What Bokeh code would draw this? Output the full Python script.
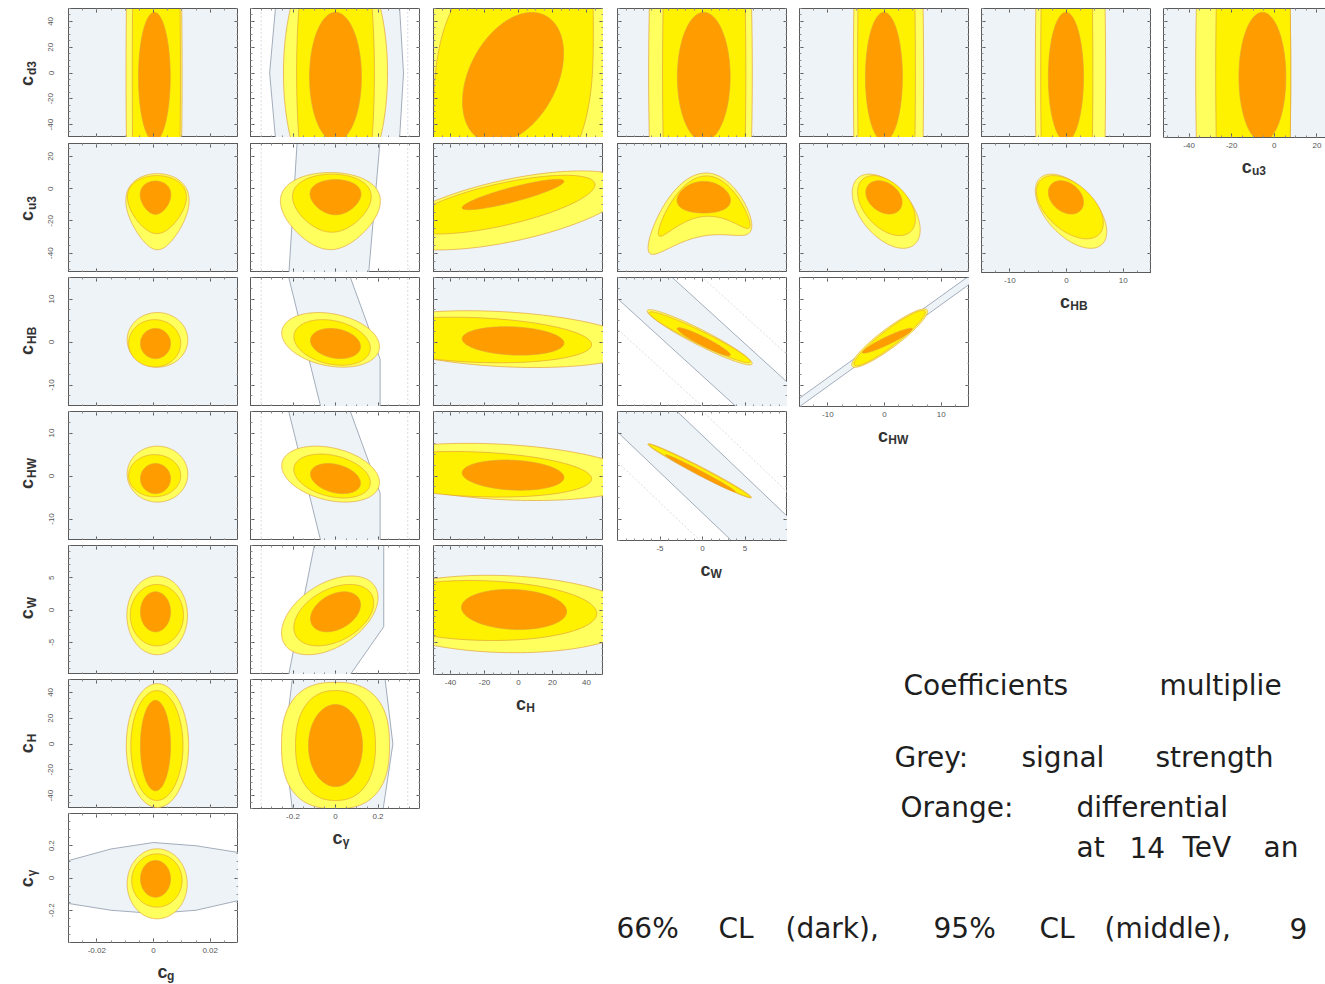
import numpy as np
from bokeh.plotting import figure
from bokeh.layouts import row, column
from bokeh.models import Range1d, FixedTicker, LinearAxis, PrintfTickFormatter
from bokeh.embed import file_html
from bokeh.resources import INLINE
from bokeh.core.properties import value

# ---------------------------------------------------------------- data
col_vars = ["g", "γ", "H", "W", "HW", "HB", "u3"]
row_vars = ["d3", "u3", "HB", "HW", "W", "H", "γ"]

axis_range = {
    "g": (-0.03, 0.03), "γ": (-0.4, 0.4), "H": (-50, 50), "W": (-10, 10),
    "HW": (-15, 15), "HB": (-15, 15), "u3": (-52, 28), "d3": (-50, 50),
}
major_ticks = {
    "g": [-0.02, 0, 0.02], "γ": [-0.2, 0, 0.2], "H": [-40, -20, 0, 20, 40],
    "W": [-5, 0, 5], "HW": [-10, 0, 10], "HB": [-10, 0, 10],
    "u3": [-40, -20, 0, 20], "d3": [-40, -20, 0, 20, 40],
}
minor_step = {"g": 0.005, "γ": 0.05, "H": 5, "W": 1, "HW": 2.5, "HB": 2.5,
              "u3": 5, "d3": 5}


def shape(cx, cy, sx, sy, rho=0.0, egg=0.0, bend=0.0, n=2.0):
    """centre, half extents, correlation, top/bottom asymmetry, arch, squareness"""
    return (cx, cy, sx, sy, rho, egg, bend, n)


# outer region (99% CL)
region99 = {
    (0, 0): shape(0.0002, 0, 0.0099, 300), (0, 1): shape(0.0, 0, 0.245, 100),
    (0, 2): shape(0.0, 0, 62, 110, 0.35, n=3), (0, 3): shape(-0.24, 0, 6.1, 300),
    (0, 4): shape(0.7, 0, 6.2, 300), (0, 5): shape(0.7, 0, 6.2, 300),
    (0, 6): shape(-14.6, 0, 22.3, 300),
    (1, 0): shape(0.0014, -14.3, 0.0106, 23.6, egg=0.35),
    (1, 1): shape(-0.024, -13.9, 0.226, 23.9, egg=0.3),
    (1, 2): shape(-5, -13.5, 70, 24.5, 0.6),
    (1, 3): shape(-0.3, -10.25, 6.1, 20.7, 0.33, bend=0.945),
    (1, 4): shape(0.3, -14, 6.0, 23, -0.5), (1, 5): shape(0.8, -14, 6.3, 23, -0.55),
    (2, 0): shape(0.0014, 0.5, 0.0107, 6.35), (2, 1): shape(-0.023, 0.5, 0.23, 6.35, -0.25),
    (2, 2): shape(-10, 0.67, 80, 6.6, -0.25), (2, 3): shape(-0.33, 1.1, 6.18, 6.42, -0.95),
    (2, 4): shape(0.9, 0.9, 6.7, 6.8, 0.915),
    (3, 0): shape(0.0014, 0.44, 0.0107, 6.5), (3, 1): shape(-0.023, 0.44, 0.23, 6.5, -0.3),
    (3, 2): shape(-10, 0.95, 80, 6.65, -0.25), (3, 3): shape(-0.33, 1.2, 6.1, 6.3, -0.985),
    (4, 0): shape(0.0013, -0.83, 0.0107, 6.1), (4, 1): shape(-0.027, -0.83, 0.227, 6.1, 0.45),
    (4, 2): shape(-10, -0.62, 80, 6.0, -0.1),
    (5, 0): shape(0.0014, -1.2, 0.011, 48), (5, 1): shape(0.0, -1.2, 0.254, 49, n=2.5),
    (6, 0): shape(0.0013, -0.036, 0.0106, 0.217),
}
# middle region (95% CL)
region95 = {
    (0, 0): shape(0.001, 0, 0.0085, 300), (0, 1): shape(0.0, 0, 0.183, 150),
    (0, 2): shape(-3, -5, 47, 110, 0.35, n=3), (0, 3): shape(0.2, 0, 4.9, 300),
    (0, 4): shape(0.35, 0, 5.1, 300), (0, 5): shape(0.05, 0, 4.6, 300),
    (0, 6): shape(-9.9, 0, 17.6, 300),
    (1, 0): shape(0.0012, -9.9, 0.01, 18, egg=0.3),
    (1, 1): shape(-0.017, -9, 0.18, 18, egg=0.25),
    (1, 2): shape(-10, -9.9, 55, 18.2, 0.68),
    (1, 3): shape(0.2, -4.7, 5.4, 12.8, 0.2, bend=1.6),
    (1, 4): shape(0.35, -10.5, 5.1, 18.6, -0.45), (1, 5): shape(0.6, -11.5, 5.9, 19.6, -0.5),
    (2, 0): shape(0.0004, -0.3, 0.0092, 5.5), (2, 1): shape(-0.016, -0.1, 0.18, 5.3, -0.25),
    (2, 2): shape(-25, 0.47, 68, 5.3, -0.2), (2, 3): shape(-0.33, 1.1, 5.97, 5.93, -0.96),
    (2, 4): shape(0.9, 0.9, 6.3, 6.45, 0.93),
    (3, 0): shape(0.0004, 0.07, 0.0092, 4.9), (3, 1): shape(-0.016, 0.0, 0.18, 5.1, -0.3),
    (3, 2): shape(-25, 0.4, 68, 5.3, -0.2), (3, 3): shape(-0.33, 1.2, 5.98, 6.17, -0.989),
    (4, 0): shape(0.0012, -0.8, 0.0094, 4.76), (4, 1): shape(-0.008, -0.8, 0.188, 4.76, 0.4),
    (4, 2): shape(-22, -0.08, 68, 4.65, -0.1),
    (5, 0): shape(0.0012, -1.2, 0.0092, 42.6), (5, 1): shape(0.0, -1.2, 0.188, 42.6, n=2.3),
    (6, 0): shape(0.0012, -0.0155, 0.0089, 0.165),
}
# inner region (66% CL)
region66 = {
    (0, 0): shape(0.0003, -3, 0.0056, 50), (0, 1): shape(0.0, -3, 0.122, 50),
    (0, 2): shape(-3.2, -3.6, 29.7, 50.5, 0.37), (0, 3): shape(0.15, -3, 3.1, 50),
    (0, 4): shape(-0.1, -3, 3.26, 50), (0, 5): shape(-0.1, -3, 3.1, 50),
    (0, 6): shape(-5.6, -3, 11, 50),
    (1, 0): shape(0.0007, -5.6, 0.0053, 10.3, egg=0.2),
    (1, 1): shape(0.0, -5.3, 0.1175, 10.9, egg=0.2),
    (1, 2): shape(-3.2, -3.65, 29.9, 9.4, 0.87),
    (1, 3): shape(0.15, -5.3, 3.14, 9.8, bend=0.2),
    (1, 4): shape(-0.1, -5.4, 3.2, 10.3, -0.3), (1, 5): shape(-0.1, -5.4, 3.1, 10.3, -0.3),
    (2, 0): shape(0.0007, -0.35, 0.0053, 3.5), (2, 1): shape(0.0, -0.35, 0.1175, 3.5, -0.2),
    (2, 2): shape(-3.2, 0.25, 29.9, 3.3, -0.15), (2, 3): shape(0.15, 0.07, 3.13, 3.26, -0.94),
    (2, 4): shape(0.5, 0.3, 4.4, 2.88, 0.938),
    (3, 0): shape(0.0007, -0.6, 0.0053, 3.5), (3, 1): shape(0.0, -0.6, 0.1175, 3.5, -0.3),
    (3, 2): shape(-3.2, 0.2, 29.9, 3.5, -0.15), (3, 3): shape(-0.24, 0.63, 4.1, 4.31, -0.99),
    (4, 0): shape(0.0007, -0.28, 0.0053, 3.1), (4, 1): shape(0.0, -0.28, 0.1175, 3.1, 0.35),
    (4, 2): shape(-2.6, 0.08, 30.9, 3.1, -0.1),
    (5, 0): shape(0.0007, -1.2, 0.0053, 35), (5, 1): shape(0.0, -1.2, 0.127, 31.8),
    (6, 0): shape(0.0007, -0.005, 0.0053, 0.114),
}

# signal-strength (grey) allowed regions that do not fill the whole panel
grey_region = {
    (0, 1): ([-0.28, -0.31, -0.28, 0.30, 0.32, 0.30], [55, 0, -55, -55, 0, 55]),
    (1, 1): ([-0.18, -0.22, 0.155, 0.21], [30, -54, -54, 30]),
    (2, 1): ([-0.22, -0.07, 0.21, 0.21, 0.07], [15, -15, -15, -4, 15]),
    (3, 1): ([-0.22, -0.07, 0.21, 0.21, 0.07], [15, -15, -15, -4, 15]),
    (4, 1): ([-0.10, -0.22, 0.07, 0.227, 0.227], [10, -10, -10, -2.6, 10]),
    (5, 1): ([-0.20, -0.24, -0.20, 0.22, 0.27, 0.23], [55, 0, -55, -55, 0, 55]),
    (6, 0): ([-0.03, -0.015, 0.0, 0.015, 0.03, 0.03, 0.015, 0.0, -0.015, -0.03],
             [0.108, 0.18, 0.22, 0.2, 0.158, -0.14, -0.2, -0.22, -0.2, -0.158]),
    (2, 3): ([-12, 12, 12, -12], [30.2, -13.0, -29.5, 13.7]),
    (3, 3): ([-12, 12, 12, -12], [32.0, -13.2, -31.2, 14.0]),
    (2, 4): ([-17, 17, 17, -17], [-14.95, 17.35, 15.35, -16.95]),
}
# faint outer signal-strength contours
faint_lines = {
    (r, 1): [([-0.35, -0.35], [-100, 100]), ([0.34, 0.34], [-100, 100])] for r in range(6)
}
faint_lines[(2, 3)] = [([-12, 12], [36.6, -6.6]), ([-12, 12], [6.6, -36.6])]
faint_lines[(3, 3)] = [([-12, 12], [37.6, -7.5]), ([-12, 12], [7.0, -38.1])]

# legend / caption text
caption_lines = [
    (["Coefficients", "multiplie"], [903, 1159], 685),
    (["Grey:", "signal", "strength"], [894, 1021, 1155], 757),
    (["Orange:", "differential"], [900, 1076], 807),
    (["at", "14", "TeV", "an"], [1076, 1129, 1182, 1263], 847),
    (["66%", "CL", "(dark),", "95%", "CL", "(middle),", "9"],
     [616, 718, 785, 933, 1039, 1104, 1289], 928),
]

# ---------------------------------------------------------------- style
GREY = "#eef3f8"
GREY_LINE = "#8d99aa"
C99, C95, C66 = "#ffff5e", "#fff200", "#ff9d00"
EDGE = "#e2a23a"
FRAME = "#5a5a5a"
LABEL_FONT = "Liberation Sans"

FH = 129                                   # frame height of every panel
tops = [8, 143, 277, 411, 545, 679, 813]   # frame tops, page pixels
left_border = [28, 12, 13, 14, 12, 12, 12]
frame_w = [170, 170, 170, 170, 170, 170, 162]
YLAB_W = 40                                # strip holding the row titles
TICK_BORDER = 16                           # room for the x tick labels
RIGHT_H = 600                              # height of the block above the caption
C_SIZE, SUB_SIZE = "18px", "12px"


def outline(params):
    cx, cy, sx, sy, rho, egg, bend, n = params
    t = np.linspace(0, 2 * np.pi, 361)
    c, s = np.cos(t), np.sin(t)
    C = np.sign(c) * np.abs(c) ** (2.0 / n)
    S = np.sign(s) * np.abs(s) ** (2.0 / n)
    x = cx + sx * C * (1 + egg * S)
    y = cy + sy * (rho * C + np.sqrt(1 - rho ** 2) * S) - bend * sy * C ** 2
    return x, y


def ticker_for(var, rng):
    step = minor_step[var]
    lo = np.floor(rng[0] / step) * step
    minors = [round(v, 6) for v in np.arange(lo, rng[1] + step / 2, step)]
    return FixedTicker(ticks=major_ticks[var], minor_ticks=minors)


def style_axis(ax, ticker, show, vertical=False):
    ax.ticker = ticker
    ax.formatter = PrintfTickFormatter(format="%g")
    ax.axis_line_color = FRAME
    ax.major_tick_line_color = FRAME
    ax.major_tick_in, ax.major_tick_out = 4, 0
    ax.minor_tick_line_color = "#8c8c8c"
    ax.minor_tick_in, ax.minor_tick_out = 2, 0
    if show:
        ax.major_label_text_font = LABEL_FONT
        ax.major_label_text_font_size = "8px"
        ax.major_label_text_color = "#555555"
        ax.major_label_standoff = 15 if vertical else 5
        if vertical:
            ax.major_label_orientation = "vertical"
    else:
        ax.major_label_text_font_size = "1px"
        ax.major_label_text_color = None
        ax.major_label_standoff = 0


def text_strip(width, height, items):
    """a blank canvas carrying axis titles: items are (x, y-up, text, size, angle)"""
    f = figure(width=width, height=height, x_range=Range1d(0, width),
               y_range=Range1d(0, height), output_backend="svg", toolbar_location=None,
               min_border=0, outline_line_color=None, background_fill_color="white")
    f.axis.visible = False
    f.grid.visible = False
    for x, y, txt, size, angle in items:
        f.text(x=[x], y=[y], text=[txt], angle=angle, text_font=value(LABEL_FONT),
               text_font_size=size, text_font_style="bold", text_color="#333333",
               text_baseline="middle", text_align="left")
    return f


def panel_top(r):
    return tops[0] if r == 0 else tops[r] - tops[r - 1] - FH


def make_panel(r, c):
    xv, yv = col_vars[c], row_vars[r]
    xr = (-52, 24) if c == 6 else axis_range[xv]
    yr = axis_range[yv]
    diag = r + c == 6
    top = panel_top(r)
    bot = TICK_BORDER if diag else 0
    lb, fw = left_border[c], frame_w[c]
    partial = (r, c) in grey_region
    p = figure(width=lb + fw, height=top + FH + bot,
               x_range=Range1d(*xr), y_range=Range1d(*yr),
               output_backend="svg", toolbar_location=None,
               min_border_left=lb, min_border_right=0,
               min_border_top=top, min_border_bottom=bot,
               background_fill_color="white" if partial else GREY,
               border_fill_color="white",
               outline_line_color=None if c == 6 else FRAME)
    p.grid.visible = False

    style_axis(p.xaxis[0], ticker_for(xv, xr), diag)
    style_axis(p.yaxis[0], ticker_for(yv, yr), c == 0, vertical=True)
    above = LinearAxis()
    style_axis(above, ticker_for(xv, xr), False)
    p.add_layout(above, "above")
    if c != 6:
        right = LinearAxis()
        style_axis(right, ticker_for(yv, yr), False)
        p.add_layout(right, "right")

    for xs, ys in faint_lines.get((r, c), []):
        p.line(xs, ys, line_color="#cdd4de", line_width=0.8, line_dash="2 2")
    if partial:
        gx, gy = grey_region[(r, c)]
        p.patch(gx, gy, fill_color=GREY, line_color=GREY_LINE, line_width=0.8)

    for reg, col in ((region99, C99), (region95, C95), (region66, C66)):
        x, y = outline(reg[(r, c)])
        p.patch(x, y, fill_color=col, line_color=EDGE, line_width=0.7)
    return p


def sub_width(sub):
    return 7.5 * len(sub)


columns = []
for c in range(7):
    figs = [make_panel(r, c) for r in range(7 - c)]
    frame_bottom = tops[6 - c] + FH
    if c == 0:
        strip_h = 984 - frame_bottom - TICK_BORDER
    elif c >= 3:
        strip_h = RIGHT_H - frame_bottom - TICK_BORDER
    else:
        strip_h = 40
    sub = col_vars[c]
    centre = left_border[c] + 85
    x0 = centre - (11 + sub_width(sub)) / 2
    figs.append(text_strip(left_border[c] + frame_w[c], strip_h,
                           [(x0, strip_h - 13, "c", C_SIZE, 0.0),
                            (x0 + 11, strip_h - 17, sub, SUB_SIZE, 0.0)]))
    columns.append(column(*figs, spacing=0))

# row titles to the left of the first column
ylab_figs = []
for r in range(7):
    top = panel_top(r)
    extra = 984 - tops[6] - FH if r == 6 else 0
    h = top + FH + extra
    sub = row_vars[r]
    frame_mid_up = extra + FH / 2            # frame centre measured from the strip bottom
    y0 = frame_mid_up - (11 + sub_width(sub)) / 2
    ylab_figs.append(text_strip(YLAB_W, h, [(26, y0, "c", C_SIZE, np.pi / 2),
                                            (31, y0 + 11, sub, SUB_SIZE, np.pi / 2)]))
ylab_column = column(*ylab_figs, spacing=0)

# caption block under the shorter columns
tf = figure(width=722, height=384, x_range=Range1d(603, 1325), y_range=Range1d(984, 600),
            output_backend="svg", toolbar_location=None, min_border=0,
            outline_line_color=None, background_fill_color="white")
tf.axis.visible = False
tf.grid.visible = False
for words, xs, base in caption_lines:
    tf.text(x=xs, y=[base] * len(words), text=words, text_font=value("DejaVu Sans"),
            text_font_size="28px", text_color="#1e1e1e", text_baseline="alphabetic")

right_block = column(row(*columns[3:], spacing=0), tf, spacing=0)
layout = row(ylab_column, columns[0], columns[1], columns[2], right_block, spacing=0)

with open("out.html", "w") as f:
    f.write(file_html(layout, INLINE))
